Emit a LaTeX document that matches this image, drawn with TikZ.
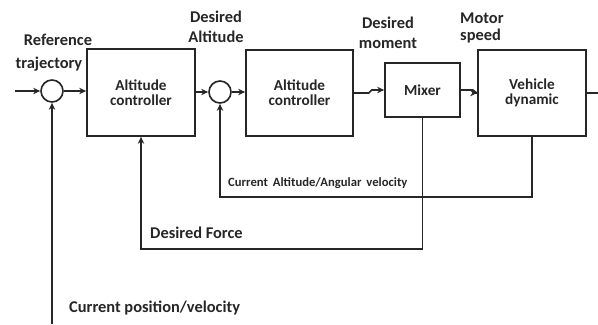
\documentclass[tikz,border=0pt]{standalone}
\usepackage{fontspec}
\setmainfont{Carlito}
\usetikzlibrary{arrows.meta}
\begin{document}
\begin{tikzpicture}[
					x=0.03cm, y=-0.03cm,
					every node/.style={font=\bfseries\fontsize{14}{17}\selectfont, text=black!85},
					block/.style={draw, line width=1.4pt, black!85, align=center, inner sep=0pt, font=\bfseries\fontsize{13}{13}\selectfont},
					sum/.style={draw, circle, line width=1.4pt, black!85, minimum size=22*0.03cm, inner sep=0pt},
					signal/.style={draw, line width=1.4pt, black!85, -{Stealth[length=6pt, width=5.5pt]}},
					link/.style={draw, line width=1.4pt, black!85},
					lbl/.style={inner sep=0pt, align=center},
					smalllbl/.style={inner sep=0pt, anchor=west, font=\bfseries\fontsize{10.8}{12}\selectfont}]
					\useasboundingbox (0,0) rectangle (598,324);
					% blocks of the loop
					\node[sum] (sum1) at (52,91) {};
					\node[block, minimum width=108*0.03cm, minimum height=87*0.03cm] (ctrl1) at (141,92.5) {Altitude\\controller};
					\node[sum] (sum2) at (220,92) {};
					\node[block, minimum width=107*0.03cm, minimum height=86*0.03cm] (ctrl2) at (299.5,93) {Altitude\\controller};
					\node[block, minimum width=75*0.03cm, minimum height=54*0.03cm] (mixer) at (422.5,90) {Mixer};
					\node[block, minimum width=108*0.03cm, minimum height=86*0.03cm] (vehicle) at (532,93) {Vehicle\\dynamic};
					% free ends and corners
					\coordinate (in) at (15,91);
					\coordinate (out) at (598,93);
					\coordinate (pos) at (52,324);
					\coordinate (force) at (141,249);
					\coordinate (state) at (220,197);
					% signals
					\path[signal] (in) -- (sum1);
					\path[signal] (sum1) -- (ctrl1.west |- sum1);
					\path[signal] (ctrl1.east |- sum2) -- (sum2);
					\path[signal] (sum2) -- (ctrl2.west |- sum2);
					\path[signal] (ctrl2.east) -- ++(15,0) -- ++(3,-3) -- (mixer.west);
					\path[signal] (mixer.east) -- ++(12,0) -- ++(4,3) -- (vehicle.west);
					\path[link] (vehicle.east) -- (out);
					\path[signal] (mixer.south) |- (force) -- (ctrl1.south);
					\path[signal] (vehicle.south) |- (state) -- (sum2.south);
					\path[signal] (pos) -- (sum1.south);
					% labels
					\node[lbl] (reflbl) at (58,40) {Reference};
					\node[lbl] (trajlbl) at (49,64) {trajectory};
					\node[lbl] (altlbl) at (216,27) {Desired\\Altitude};
					\node[lbl] (momlbl) at (388,32.5) {Desired\\moment};
					\node[lbl, align=left, anchor=west] (speedlbl) at (460,28) {Motor\\[-3pt]speed};
					\node[smalllbl] (statelbl) at (228,183) {Current\, Altitude/Angular\, velocity};
					\node[lbl, anchor=west] (forcelbl) at (150,233) {Desired Force};
					\node[lbl, anchor=west] (poslbl) at (69,308) {Current position/velocity};
				\end{tikzpicture}
\end{document}
